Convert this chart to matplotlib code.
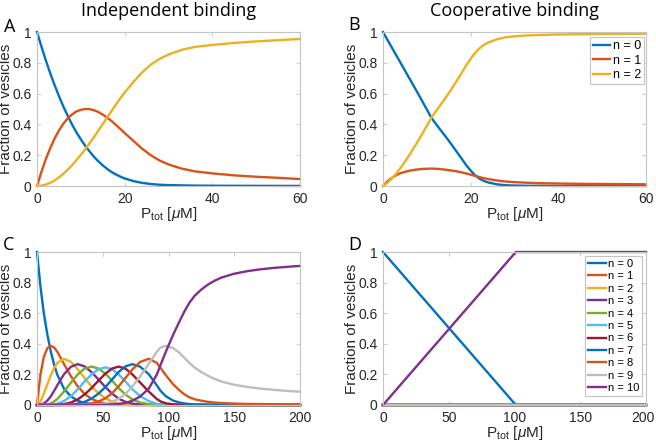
import matplotlib
matplotlib.use("Agg")
import matplotlib.pyplot as plt
from matplotlib.transforms import ScaledTranslation

# ---- panel A: independent binding, 2 sites
x_a = [0, 1, 2, 3, 4, 5, 6, 7, 8, 9, 10, 11, 12, 13, 14, 15, 16, 17, 18, 19, 20,
       22, 24, 26, 28, 30, 33, 36, 40, 45, 50, 55, 60]
a_n0 = [1, .906, .817, .734, .656, .584, .517, .456, .399, .348, .303, .261, .224, .190,
        .160, .134, .111, .091, .075, .061, .049, .032, .020, .013, .008, .006, .004,
        .0025, .0018, .0013, .001, .0007, .0005]
a_n1 = [0, .091, .174, .245, .308, .361, .404, .439, .465, .484, .495, .500, .499, .492,
        .480, .464, .444, .422, .397, .371, .344, .293, .242, .199, .165, .140, .113,
        .095, .082, .069, .060, .053, .045]
a_n2 = [0, .002, .009, .020, .036, .056, .079, .106, .135, .168, .203, .239, .278, .318,
        .360, .402, .445, .487, .529, .569, .607, .676, .738, .789, .826, .854, .884,
        .903, .916, .929, .939, .947, .955]

# ---- panel B: cooperative binding, 2 sites
x_b = [0, 1, 2, 3, 4, 5, 6, 7, 8, 9, 10, 11, 12, 13, 14, 15, 16, 17, 18, 19, 20,
       21, 22, 23, 24, 26, 28, 30, 33, 36, 40, 45, 50, 60]
b_n0 = [1, .95, .90, .85, .80, .75, .70, .65, .60, .548, .497, .445, .405, .368, .332,
        .294, .255, .215, .175, .135, .10, .07, .048, .033, .023, .011, .005, .003,
        .0015, .001, 0, 0, 0, 0]
b_n1 = [0, .03, .052, .07, .083, .092, .099, .104, .108, .111, .112, .113, .112, .110,
        .107, .103, .099, .094, .088, .081, .074, .066, .058, .051, .045, .036, .029,
        .025, .021, .018, .016, .014, .013, .011]
b_n2 = [0, .02, .048, .08, .117, .158, .201, .246, .292, .341, .391, .442, .483, .522,
        .561, .603, .646, .691, .737, .784, .826, .864, .894, .916, .932, .953, .966,
        .972, .978, .981, .984, .986, .987, .989]

# ---- panel C: independent binding, 10 sites
x_c = [0, 2.6, 5.2, 7.9, 10.5, 13.0, 15.5, 20.5, 25.8, 31, 36.2, 41.5, 46.8, 52, 57,
       62, 67.2, 72.5, 78.5, 85, 91, 94, 98, 103.5, 108, 112, 116, 120, 125, 130, 135,
       140, 150, 160, 170, 180, 190, 200]
c_n0 = [1, .776, .599, .459, .349, .263, .197, .107, .056, .028, .013, .006, .003, .001] + [0] * 24
c_n1 = [0, .199, .315, .372, .387, .376, .347, .268, .188, .121, .072, .040, .021, .010,
        .004, .002, .001] + [0] * 21
c_n2 = [0, .023, .075, .136, .194, .242, .276, .302, .282, .233, .176, .121, .076, .044,
        .023, .011, .004, .001] + [0] * 20
c_n3 = [0, .002, .010, .029, .057, .092, .130, .201, .250, .267, .252, .215, .166, .117,
        .075, .042, .021, .009, .003, .001] + [0] * 18
c_n4 = [0, 0, .001, .004, .011, .023, .040, .088, .146, .200, .238, .251, .238, .205,
        .160, .111, .069, .037, .016, .006, .001] + [0] * 17
c_n5 = [0, 0, 0, 0, .001, .004, .008, .026, .058, .103, .154, .201, .234, .246, .234,
        .201, .154, .103, .058, .026, .008, .004, .001] + [0] * 15
c_n6 = [0, 0, 0, 0, 0, 0, .001, .006, .016, .037, .069, .111, .160, .205, .238, .251,
        .238, .200, .146, .088, .040, .023, .011, .004, .002, .001] + [0] * 12
c_n7 = [0, 0, 0, 0, 0, 0, 0, .001, .003, .009, .021, .042, .075, .117, .166, .215, .252,
        .267, .250, .201, .130, .092, .057, .029, .017, .010, .006, .003, .002,
        .001] + [0] * 8
c_n8 = [0] * 9 + [.001, .004, .011, .023, .044, .076, .121, .176, .233, .282, .302, .276,
                  .242, .194, .136, .098, .070, .050, .037, .028, .021, .016, .013,
                  .009, .007, .006, .005, .004, .004]
c_n9 = [0] * 10 + [.001, .002, .004, .010, .021, .040, .072, .121, .188, .268, .347,
                   .376, .387, .372, .344, .309, .274, .244, .215, .191, .171, .154,
                   .132, .118, .107, .099, .092, .087]
c_n10 = [0] * 13 + [.001, .003, .006, .013, .028, .056, .107, .197, .263, .349, .459,
                    .540, .610, .670, .715, .755, .787, .812, .832, .858, .875, .887,
                    .896, .903, .909]

# ---- panel D: cooperative binding, 10 sites
x_d = [0, 101, 200]
d_n0 = [1, 0, 0]
d_n10 = [0, 1, 1]
d_zero = [0, 0, 0]

COLORS = ["#0072BD", "#D95319", "#EDB120", "#7E2F8E", "#77AC30", "#4DBEEE",
          "#A2142F", "#0072BD", "#D95319", "#BDBDBD", "#7E2F8E"]
BOX = "#c4c4c4"
TXT = "#262626"
W, H = 656, 447


def _axes(fig, left, top, right, bottom):
    return fig.add_axes([left / W, 1 - bottom / H, (right - left) / W, (bottom - top) / H])


def _style(ax, xmax, xticks, h):
    ax.set_xlim(0, xmax)
    ax.set_ylim(0, 1)
    ax.set_xticks(xticks)
    ax.set_xticklabels([str(t) for t in xticks])
    ax.set_yticks([0, .2, .4, .6, .8, 1])
    ax.set_yticklabels(["0", "0.2", "0.4", "0.6", "0.8", "1"])
    for s in ax.spines.values():
        s.set_color(BOX)
        s.set_linewidth(0.8)
    ax.tick_params(direction="in", length=3, width=0.6, color=BOX, top=True, right=True,
                   labelsize=10, labelcolor=TXT, pad=4)
    for lab in ax.get_xticklabels() + ax.get_yticklabels():
        lab.set_fontfamily("Liberation Sans")
    ax.set_ylabel("Fraction of vesicles", fontsize=11, color=TXT, family="Liberation Sans")
    ax.yaxis.set_label_coords(-24 / 263, 0.5)
    ax.set_xlabel(r"P$_{\rm tot}$ [$\mu$M]", fontsize=11, color=TXT, family="Liberation Sans")
    ax.xaxis.label.set_va("baseline")
    ax.xaxis.set_label_coords(0.5, -31.5 / h)


def main():
    plt.rcParams["mathtext.fontset"] = "custom"
    plt.rcParams["mathtext.rm"] = "Liberation Sans"
    plt.rcParams["mathtext.it"] = "Liberation Sans:italic"

    fig = plt.figure(figsize=(W / 100, H / 100), dpi=100)
    lw = 1.7

    axA = _axes(fig, 37, 32, 300, 186)
    for i, ys in enumerate([a_n0, a_n1, a_n2]):
        axA.plot(x_a, ys, color=COLORS[i], lw=lw, clip_on=False)
    _style(axA, 60, [0, 20, 40, 60], 154)

    axB = _axes(fig, 383, 32, 646, 186)
    for i, ys in enumerate([b_n0, b_n1, b_n2]):
        axB.plot(x_b, ys, color=COLORS[i], lw=lw, clip_on=False, label=f"n = {i}")
    _style(axB, 60, [0, 20, 40, 60], 154)
    legB = axB.legend(loc="upper right", bbox_to_anchor=(1 - 2 / 263, 1 - 5 / 154),
                      handlelength=1.4, handletextpad=0.2, labelspacing=0.2,
                      borderpad=0.25, borderaxespad=0, fancybox=False, framealpha=1,
                      prop={"family": "Liberation Sans", "size": 9})
    legB.get_frame().set_edgecolor(BOX)
    legB.get_frame().set_linewidth(0.8)

    axC = _axes(fig, 37, 252, 300, 405)
    c_all = [c_n0, c_n1, c_n2, c_n3, c_n4, c_n5, c_n6, c_n7, c_n8, c_n9, c_n10]
    for i, ys in enumerate(c_all):
        axC.plot(x_c, ys, color=COLORS[i], lw=lw, clip_on=False)
    _style(axC, 200, [0, 50, 100, 150, 200], 153)

    axD = _axes(fig, 383, 252, 646, 405)
    d_all = [d_n0] + [d_zero] * 9 + [d_n10]
    for i, ys in enumerate(d_all):
        axD.plot(x_d, ys, color=COLORS[i], lw=lw, clip_on=False, label=f"n = {i}")
    _style(axD, 200, [0, 50, 100, 150, 200], 153)
    legD = axD.legend(loc="upper right", bbox_to_anchor=(1 - 4 / 263, 1 - 4 / 153),
                      handlelength=1.6, handletextpad=0.2, labelspacing=0.22,
                      borderpad=0.25, borderaxespad=0, fancybox=False, framealpha=1,
                      prop={"family": "Liberation Sans", "size": 8})
    legD.get_frame().set_edgecolor(BOX)
    legD.get_frame().set_linewidth(0.8)

    # nudge the "200" at the right edge so it stays inside the canvas
    last = axD.xaxis.get_major_ticks()[-1].label1
    last.set_transform(last.get_transform() + ScaledTranslation(-0.03, 0, fig.dpi_scale_trans))

    fig.text(168.5 / W, 1 - 11 / H, "Independent binding", ha="center", va="center",
             fontsize=13, family="Open Sans", color="black")
    fig.text(514.5 / W, 1 - 11 / H, "Cooperative binding", ha="center", va="center",
             fontsize=13, family="Open Sans", color="black")
    for lab, x, y in [("A", 4, 31.5), ("B", 348, 30.5), ("C", 3, 250), ("D", 348, 250)]:
        fig.text(x / W, 1 - y / H, lab, ha="left", va="baseline", fontsize=13,
                 family="Open Sans", color="black")

    fig.savefig("out.png", dpi=100)
    plt.close(fig)


if __name__ == "__main__":
    main()
